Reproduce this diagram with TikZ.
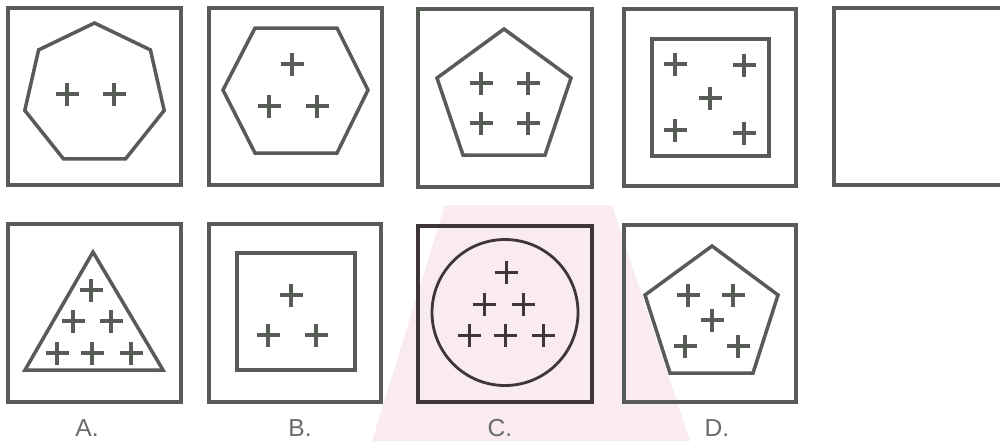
\documentclass[tikz,border=0pt]{standalone}
\usepackage{fontspec}
\setmainfont{Liberation Sans}
\definecolor{ink}{RGB}{88,92,86}
\definecolor{inkdark}{RGB}{62,54,56}
\definecolor{wmpink}{RGB}{250,235,240}
\begin{document}
\begin{tikzpicture}[x=0.02cm, y=-0.02cm,
    frame/.style={draw=ink, line width=2.3pt},
    figure/.style={draw=ink, line width=2pt, line join=miter},
    plusmark/.style={draw=ink, line width=1.9pt},
    optlabel/.style={text=ink!90!white, font=\fontsize{14}{16}\selectfont}]
    \useasboundingbox (0,0) rectangle (1000,441);
    \clip (0,0) rectangle (1000,441);

    % Watermark behind the options
    \fill[wmpink] (445,205) -- (612,205) -- (690,441) -- (372,441) -- cycle;

    % Row 1: heptagon, two crosses
    \draw[frame] (8,8) rectangle (181,185);
    \draw[figure] (94.5,23) -- (150.4,49.9) -- (164.2,110.4) -- (125.5,158.9)
        -- (63.5,158.9) -- (24.8,110.4) -- (38.6,49.9) -- cycle;
    \foreach \x/\y in {67/94, 114/94}
        \draw[plusmark] (\x-11.5,\y) -- ++(23,0) (\x,\y-11.5) -- ++(0,23);

    % Row 1: hexagon, three crosses
    \draw[frame] (209,8) rectangle (382,185);
    \draw[figure] (223,90) -- (255,28) -- (337,28) -- (368,90) -- (337,153)
        -- (255,153) -- cycle;
    \foreach \x/\y in {292/64, 269/106, 317/106}
        \draw[plusmark] (\x-11.5,\y) -- ++(23,0) (\x,\y-11.5) -- ++(0,23);

    % Row 1: pentagon, four crosses
    \draw[frame] (418,9) rectangle (592,187);
    \draw[figure] (504,29) -- (571,78) -- (545,155) -- (463,155) -- (437,78) -- cycle;
    \foreach \x/\y in {481/83, 528/83, 481/123, 528/123}
        \draw[plusmark] (\x-11.5,\y) -- ++(23,0) (\x,\y-11.5) -- ++(0,23);

    % Row 1: square, five crosses
    \draw[frame] (624,9) rectangle (796,186);
    \draw[figure] (652,39) rectangle (769,156);
    \foreach \x/\y in {675/64, 744/65, 710/98, 675/130, 744/133}
        \draw[plusmark] (\x-11.5,\y) -- ++(23,0) (\x,\y-11.5) -- ++(0,23);

    % Row 1: empty frame
    \draw[frame] (834,8) rectangle (1012,185);

    % Option A: triangle, six crosses
    \draw[frame] (8,224) rectangle (181,402);
    \draw[figure] (93,252) -- (163,370) -- (25,370) -- cycle;
    \foreach \x/\y in {91/290, 73/321, 111/321, 57/353, 92/353, 131/353}
        \draw[plusmark] (\x-11.5,\y) -- ++(23,0) (\x,\y-11.5) -- ++(0,23);
    \node[optlabel] (labA) at (87,428) {A.};

    % Option B: square, three crosses
    \draw[frame] (209,224) rectangle (381,402);
    \draw[figure] (237,253) rectangle (355,370);
    \foreach \x/\y in {291/295, 268/335, 316/335}
        \draw[plusmark] (\x-11.5,\y) -- ++(23,0) (\x,\y-11.5) -- ++(0,23);
    \node[optlabel] (labB) at (300,428) {B.};

    % Option C: circle, six crosses
    \draw[frame, draw=inkdark] (418,226) rectangle (592,402);
    \draw[figure, draw=inkdark, line width=1.6pt] (505,312.5) circle (73);
    \foreach \x/\y in {506/272, 484/304, 523/304, 469/335, 505/335, 543/335}
        \draw[plusmark, draw=inkdark, line width=1.7pt] (\x-11.5,\y) -- ++(23,0) (\x,\y-11.5) -- ++(0,23);
    \node[optlabel] (labC) at (500,428) {C.};

    % Option D: pentagon, five crosses
    \draw[frame] (624,225) rectangle (796,402);
    \draw[figure] (712,246) -- (778,295) -- (753,373) -- (670,373) -- (645,295) -- cycle;
    \foreach \x/\y in {688/295, 733/295, 712/320, 685/346, 738/346}
        \draw[plusmark] (\x-11.5,\y) -- ++(23,0) (\x,\y-11.5) -- ++(0,23);
    \node[optlabel] (labD) at (717,428) {D.};
\end{tikzpicture}
\end{document}
